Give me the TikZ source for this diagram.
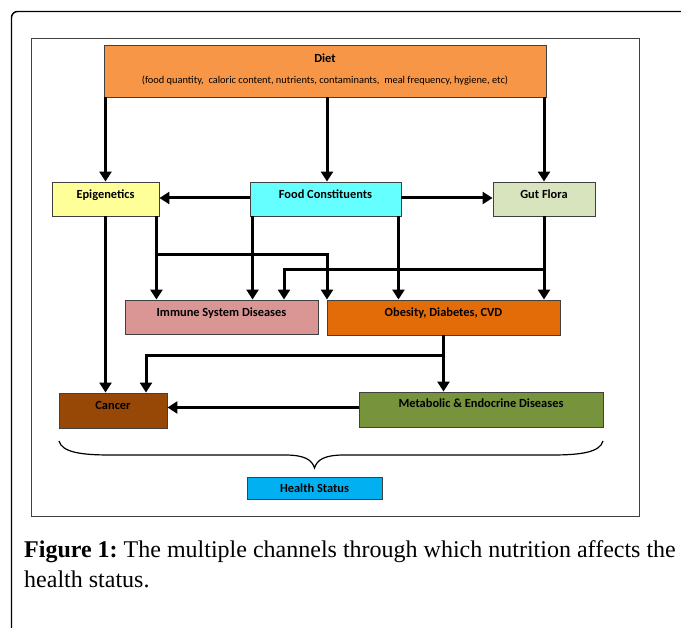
\documentclass[tikz,border=0pt]{standalone}
\usepackage{fontspec}
\setmainfont{Carlito}
\newfontfamily\capfont{Liberation Serif}
\usetikzlibrary{arrows.meta,calc}

\definecolor{dietcol}{HTML}{F79646}
\definecolor{epicol}{HTML}{FFFF99}
\definecolor{foodcol}{HTML}{66FFFF}
\definecolor{gutcol}{HTML}{D7E4BD}
\definecolor{immcol}{HTML}{D99694}
\definecolor{obecol}{HTML}{E36C09}
\definecolor{cancol}{HTML}{974806}
\definecolor{metcol}{HTML}{77933C}
\definecolor{hlthcol}{HTML}{00B0F0}
\definecolor{edgecol}{HTML}{404040}

\begin{document}
\begin{tikzpicture}[x=1pt,y=-1pt]
\tikzset{outerframe/.style={line width=1.4pt,black}}
\tikzset{innerframe/.style={line width=1pt,edgecol}}

\tikzset{box/.style={
rectangle,draw=edgecol,line width=0.9pt,
inner sep=0pt}}

\tikzset{boxtext/.style={
below,black,inner sep=0pt,
font=\fontsize{12.4}{14}\selectfont\bfseries}}

\tikzset{link/.style={
line width=3pt,black,
-{Triangle[width=12pt,length=10pt]}}}

\tikzset{joint/.style={
line width=3pt,black}}

\useasboundingbox (0,0) rectangle (681,628);

\draw[outerframe,rounded corners=6pt]
(11.5,640) -- (11.5,11.5) -- (700,11.5);

\draw[innerframe] (31,39) rectangle (639,517);

% boxes
\draw
(325,71)
node[box,fill=dietcol,minimum width=442,minimum height=52,name=diet] {}
(diet.north) ++(0,9)
node[boxtext] {Diet}
(diet.north) ++(0,31)
node[below,black,inner sep=0pt,font=\fontsize{10.4}{12}\selectfont]
{(food quantity, \ caloric content, nutrients, contaminants, \ meal frequency, hygiene, etc)};

\draw
(105.5,199)
node[box,fill=epicol,minimum width=107,minimum height=34,name=epi] {}
(epi.north) ++(0,8)
node[boxtext] {Epigenetics};

\draw
(325.5,199)
node[box,fill=foodcol,minimum width=151,minimum height=34,name=food] {}
(food.north) ++(0,8)
node[boxtext] {Food Constituents};

\draw
(544,199)
node[box,fill=gutcol,minimum width=102,minimum height=34,name=gut] {}
(gut.north) ++(0,8)
node[boxtext] {Gut Flora};

\draw
(221.5,317)
node[box,fill=immcol,minimum width=193,minimum height=34,name=immune] {}
(immune.north) ++(0,8.5)
node[boxtext] {Immune System Diseases};

\draw
(443.5,317.5)
node[box,fill=obecol,minimum width=233,minimum height=35,name=obesity] {}
(obesity.north) ++(0,8.5)
node[boxtext] {Obesity, Diabetes, CVD};

\draw
(113,410.5)
node[box,fill=cancol,minimum width=108,minimum height=35,name=cancer] {}
(cancer.north) ++(0,8.5)
node[boxtext] {Cancer};

\draw
(481,409.5)
node[box,fill=metcol,minimum width=244,minimum height=35,name=metab] {}
(metab.north) ++(0,7.5)
node[boxtext] {Metabolic \& Endocrine Diseases};

\draw
(314.5,488)
node[box,fill=hlthcol,minimum width=135,minimum height=22,name=health] {}
(health.center)
node[black,inner sep=0pt,font=\fontsize{12.4}{14}\selectfont\bfseries] {Health Status};

% arrows from diet
\draw[link] (diet.south -| epi.north) -- (epi.north);
\draw[link] ($(diet.south -| food.north)+(1.5,0)$) -- ($(food.north)+(1.5,0)$);
\draw[link] (diet.south -| gut.north) -- (gut.north);

% food constituents sideways
\draw[link] ($(food.west)+(0,-1)$) -- ($(epi.east)+(0,-1)$);
\draw[link] ($(food.east)+(0,-1)$) -- ($(gut.west)+(0,-1)$);

% downwards
\draw[link] (epi.south) -- (epi.south |- cancer.north);
\draw[link] ($(epi.south east)+(-3,0)$) coordinate (epiR)
-- (epiR |- immune.north);
\draw[joint] (epiR |- 0,255) coordinate (epiJ) -- (327,255) coordinate (epiK);
\draw[link] ($(epiK)+(0,-1.5)$) -- (epiK |- obesity.north);

\draw[link] ($(food.south west)+(3,0)$) coordinate (foodL)
-- (foodL |- immune.north);
\draw[link] ($(food.south east)+(-3,0)$) coordinate (foodR)
-- (foodR |- obesity.north);

\draw[link] (gut.south) -- (gut.south |- obesity.north);
\draw[joint] (gut.south |- 0,270) -- (284,270) coordinate (gutK);
\draw[link] ($(gutK)+(0,-1.5)$) -- (gutK |- immune.north);

\draw[link] (obesity.south) -- (obesity.south |- metab.north);
\draw[joint] (obesity.south |- 0,356) -- (146,356) coordinate (obeK);
\draw[link] ($(obeK)+(0,-1.5)$) -- (obeK |- cancer.north);

\draw[link] ($(metab.west)+(0,-2)$) -- ($(metab.west -| cancer.east)+(0,-2)$);

% brace
\draw[line width=1.2pt,black]
(59,441) .. controls (62,452) and (80,455) .. (110,455)
-- (285,455) .. controls (305,455) and (312,460) .. (314.5,468)
.. controls (317,460) and (324,455) .. (344,455)
-- (552,455) .. controls (582,455) and (600,452) .. (603,441);

% caption
\path (24,558) node[anchor=base west,inner sep=0pt,font=\capfont\fontsize{24}{28}\selectfont]
{\textbf{Figure 1:}\kern-2pt{} The multiple channels through which nutrition affects the};
\path (24,587) node[anchor=base west,inner sep=0pt,font=\capfont\fontsize{24}{28}\selectfont]
{health status.};

\end{tikzpicture}
\end{document}
